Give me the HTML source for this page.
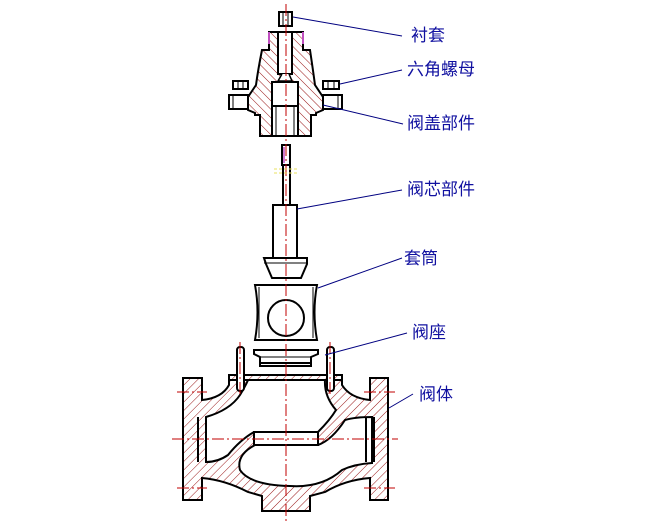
<!DOCTYPE html>
<html><head><meta charset="utf-8"><style>
html,body{margin:0;padding:0;background:#fff;}
svg{display:block}
text{font-family:"Liberation Sans","Noto Sans CJK SC",sans-serif;font-size:17px;fill:#1010a0}
</style></head><body>
<svg width="652" height="526" viewBox="0 0 652 526" xmlns="http://www.w3.org/2000/svg">
<defs>
<pattern id="h" width="6" height="6" patternUnits="userSpaceOnUse" patternTransform="rotate(45)">
<rect width="6" height="6" fill="#fff"/><line x1="0" y1="0" x2="0" y2="6" stroke="#900000" stroke-width="0.9"/>
</pattern>
<pattern id="h2" width="6" height="6" patternUnits="userSpaceOnUse" patternTransform="rotate(-45)">
<rect width="6" height="6" fill="#fff"/><line x1="0" y1="0" x2="0" y2="6" stroke="#900000" stroke-width="0.9"/>
</pattern>
</defs>
<g stroke="#000" stroke-width="2" fill="none">
<!-- bushing -->
<rect x="279" y="12" width="13" height="14" fill="#fff"/>
<line x1="283" y1="12" x2="283" y2="26" stroke-width="1"/><line x1="288" y1="12" x2="288" y2="26" stroke-width="1"/>
<!-- bonnet -->
<path d="M269,32 H303 V50 H310 Q313,70 315,85 L323,97 V110 L316,113 V115 H311 V136 H260 V115 H255 V113 L248,110 V97 L256,85 Q258,70 262,50 H269 Z" fill="url(#h2)"/>
<rect x="278" y="32" width="14" height="42" fill="#fff"/>
<path d="M282,74 L278,81 H292 L289,74" fill="#fff" stroke-width="1.5"/>
<rect x="272" y="82" width="26" height="54" fill="#fff"/>
<line x1="272" y1="106" x2="298" y2="106"/>
<line x1="276" y1="106" x2="276" y2="136" stroke-width="1"/><line x1="294" y1="106" x2="294" y2="136" stroke-width="1"/>
<line x1="269" y1="32" x2="269" y2="44" stroke="#c050c0"/><line x1="303" y1="32" x2="303" y2="44" stroke="#c050c0"/>
<!-- nuts -->
<rect x="233" y="81" width="15" height="8" fill="#fff"/><line x1="238" y1="81" x2="238" y2="89" stroke-width="1"/><line x1="243" y1="81" x2="243" y2="89" stroke-width="1"/>
<rect x="323" y="81" width="16" height="8" fill="#fff"/><line x1="328" y1="81" x2="328" y2="89" stroke-width="1"/><line x1="334" y1="81" x2="334" y2="89" stroke-width="1"/>
<!-- lugs -->
<rect x="229" y="95" width="19" height="14" fill="#fff"/><line x1="233" y1="95" x2="233" y2="109" stroke-width="1"/>
<rect x="323" y="95" width="19" height="14" fill="#fff"/><line x1="338" y1="95" x2="338" y2="109" stroke-width="1"/>
<!-- stem -->
<rect x="282" y="145" width="8" height="20" fill="#fff" stroke="#000"/>
<line x1="284" y1="147" x2="284" y2="163" stroke="#c050c0" stroke-width="1.5"/>
<rect x="283" y="165" width="7" height="40" fill="#fff"/>
<rect x="273" y="205" width="24" height="53" fill="#fff"/>
<path d="M264,258 H307 V264 L301,278 H272 L266,264 Z" fill="#fff"/>
<line x1="264" y1="263" x2="307" y2="263" stroke-width="1"/>
<!-- cage -->
<path d="M255,285 H317 Q312,312 317,340 H255 Q260,312 255,285 Z" fill="#fff"/>
<line x1="259" y1="287" x2="259" y2="338" stroke-width="1"/><line x1="313" y1="287" x2="313" y2="338" stroke-width="1"/>
<circle cx="286" cy="318" r="18" fill="#fff"/>
<!-- seat -->
<path d="M254,350 H318 V354 L311,357 V366 H260 V357 L254,354 Z" fill="#fff"/>
<line x1="260" y1="357" x2="311" y2="357" stroke-width="1"/><line x1="260" y1="363" x2="311" y2="363"/>
<!-- body -->
<path d="M183,378 H202 V400 Q222,398 229,385 V375 H342 V385 Q350,398 370,400 V378 H388 V500 H370 V478 Q345,480 325,492 L310,496 V511 H262 V496 L248,492 Q225,480 202,478 V500 H183 Z" fill="url(#h)"/>
<path d="M206,417 Q230,410 240,395 Q246,385 248,380 H325 Q324,396 336,410 Q330,420 318,432 H254 Q240,440 228,455 Q218,462 206,462 Z" fill="#fff"/>
<path d="M255,445 H318 Q332,440 345,420 Q355,417 372,417 V463 Q355,464 342,470 Q322,488 290,486 Q250,485 240,470 Q236,455 255,445 Z" fill="#fff"/>
<line x1="229" y1="380" x2="342" y2="380"/>
<rect x="254" y="432" width="64" height="13" fill="#fff"/>
<line x1="198" y1="417" x2="198" y2="462" /><line x1="206" y1="417" x2="206" y2="462"/>
<line x1="366" y1="417" x2="366" y2="462"/><line x1="374" y1="417" x2="374" y2="462"/>
<!-- studs -->
<rect x="237" y="347" width="7" height="44" rx="3" fill="#fff"/>
<rect x="327" y="347" width="7" height="44" rx="3" fill="#fff"/>
</g>
<!-- centerlines -->
<g stroke="#c00000" stroke-width="1" stroke-dasharray="12,3,2,3" fill="none">
<line x1="286" y1="4" x2="286" y2="522"/>
<line x1="172" y1="439" x2="398" y2="439"/>
<line x1="177" y1="392" x2="207" y2="392"/><line x1="177" y1="488" x2="207" y2="488"/>
<line x1="364" y1="392" x2="395" y2="392"/><line x1="364" y1="488" x2="395" y2="488"/>
<line x1="240" y1="342" x2="240" y2="395"/><line x1="330" y1="342" x2="330" y2="395"/>
</g>
<g stroke="#e8e060" stroke-width="1" stroke-dasharray="3,2"><line x1="274" y1="169" x2="299" y2="169"/><line x1="274" y1="173" x2="299" y2="173"/></g>
<!-- leaders -->
<g stroke="#000080" stroke-width="1">
<line x1="293" y1="17" x2="402" y2="36"/>
<line x1="340" y1="84" x2="402" y2="70"/>
<line x1="323" y1="105" x2="403" y2="124"/>
<line x1="297" y1="209" x2="402" y2="190"/>
<line x1="318" y1="288" x2="402" y2="258"/>
<line x1="325" y1="355" x2="407" y2="333"/>
<line x1="389" y1="408" x2="413" y2="394"/>
</g>
<text x="411" y="41">衬套</text>
<text x="407" y="75">六角螺母</text>
<text x="407" y="129">阀盖部件</text>
<text x="407" y="195">阀芯部件</text>
<text x="404" y="264">套筒</text>
<text x="412" y="338">阀座</text>
<text x="419" y="400">阀体</text>
</svg>
</body></html>
